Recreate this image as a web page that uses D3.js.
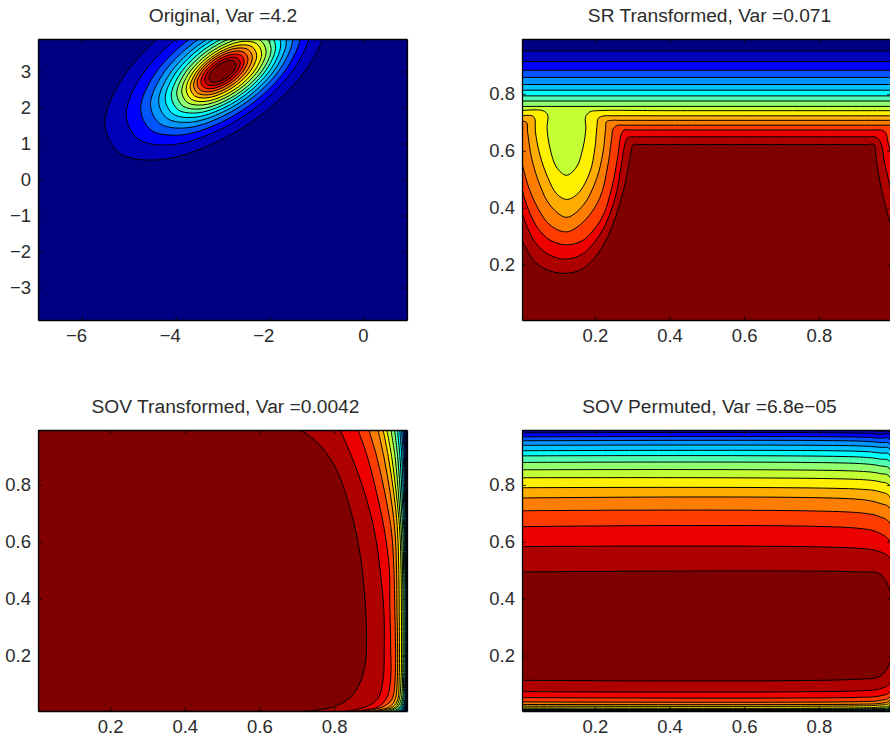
<!DOCTYPE html>
<html><head><meta charset="utf-8">
<script src="https://cdn.jsdelivr.net/npm/d3@7"></script>
<style>html,body{margin:0;padding:0;background:#fff;overflow:hidden}text{font-family:"Liberation Sans",Arial,sans-serif;fill:#2b2b2b}</style>
</head><body><svg id="c" width="890" height="739"></svg>
<script>
// Panel titles and tick labels
const titles = ["Original, Var =4.2","SR Transformed, Var =0.071","SOV Transformed, Var =0.0042","SOV Permuted, Var =6.8e\u221205"];
const originalXTicks = [-6,-4,-2,0];
const originalYTicks = [-3,-2,-1,0,1,2,3];
const unitTicks = [0.2,0.4,0.6,0.8];
const levelColors = ["#000083","#0000bb","#0000ff","#0055ff","#0095ff","#00c3ff","#00ffff","#50ffb0","#90ff70","#c4ff35","#fff000","#ffad00","#ff7d00","#ff3c00","#ee0000","#af0000","#800000"];

// Original: outer contour shape (offsets from its centre) and per-level size / centre
const originalShape = [[2.37,1.49],[2.05,2.27],[1.19,2.45],[0,1.97],[-1.19,.97],[-2.05,-.30],[-2.37,-1.49],[-2.05,-2.27],[-1.19,-2.45],[0,-1.97],[1.19,-.97],[2.05,.30]];
const originalScale = [1,.83,.72,.64,.575,.52,.47,.425,.38,.34,.30,.265,.23,.195,.16,.122];
const originalCx = [-3.14,-3.09,-3.04,-3.02,-3,-2.99,-2.98,-2.97,-2.97,-2.97,-2.98,-2.99,-3,-3,-3,-3];
const originalCy = [3,3,3,3,3,3,3,3,3,3,3,3,3,3,3,3];

// SR Transformed: contours read left to right, lowest level first
const srContours = [
 [[0,.951],[1,.951]],[[0,.914],[1,.914]],[[0,.883],[1,.883]],[[0,.858],[1,.858]],[[0,.833],[1,.833]],
 [[0,.813],[1,.813]],[[0,.793],[1,.793]],[[0,.775],[1,.775]],[[0,.756],[1,.756]],
 [[0,.741],[.061,.741],[.074,.725],[.072,.68],[.08,.609],[.097,.543],[.124,.514],[.151,.543],[.168,.609],[.176,.68],[.175,.718],[.187,.737],[.21,.741],[.4,.741],[1,.741]],
 [[0,.723],[.032,.723],[.039,.714],[.041,.667],[.053,.585],[.075,.503],[.097,.45],[.124,.429],[.155,.45],[.187,.526],[.2,.608],[.206,.69],[.209,.714],[.222,.722],[.25,.723],[.4,.723],[1,.723]],
 [[0,.704],[.017,.7],[.02,.667],[.031,.573],[.053,.479],[.08,.409],[.124,.366],[.169,.409],[.205,.503],[.222,.596],[.229,.679],[.231,.702],[.245,.707],[.27,.707],[.4,.707],[1,.707]],
 [[0,.585],[.021,.479],[.048,.397],[.08,.339],[.124,.315],[.169,.35],[.213,.433],[.235,.55],[.245,.643],[.249,.677],[.262,.69],[.28,.69],[.4,.69],[1,.69]],
 [[0,.49],[.021,.397],[.048,.327],[.08,.286],[.124,.269],[.169,.286],[.218,.362],[.245,.468],[.262,.585],[.27,.655],[.278,.673],[.295,.673],[.4,.673],[.8,.673],[.95,.673],[.968,.673],[.978,.665],[.985,.63],[1,.55]],
 [[0,.40],[.039,.28],[.08,.233],[.124,.219],[.169,.239],[.218,.315],[.254,.433],[.271,.55],[.279,.615],[.287,.645],[.298,.649],[.315,.649],[.4,.649],[.8,.649],[.93,.649],[.95,.649],[.96,.64],[.968,.62],[.976,.556],[1,.43]],
 [[0,.30],[.039,.21],[.08,.178],[.124,.169],[.169,.187],[.218,.257],[.254,.362],[.28,.479],[.293,.567],[.299,.61],[.303,.622],[.32,.622],[.4,.622],[.8,.622],[.93,.622],[.948,.622],[.952,.59],[.958,.532],[.972,.438],[.99,.35],[1,.31]]
];

// SOV Transformed: x of each contour at shared heights, lowest level first
const sovYs = [1,.899,.736,.63,.5,.385,.114,.045,.02,.008,0];
const sovXs = [
 [.9925,.994,.995,.9955,.996,.996,.996,.995,.994,.992,.99],
 [.99,.9925,.9935,.9945,.995,.995,.995,.994,.9925,.99,.987],
 [.987,.99,.992,.9935,.994,.9945,.994,.993,.991,.988,.983],
 [.984,.988,.991,.993,.9935,.994,.9935,.992,.989,.985,.978],
 [.98,.985,.989,.991,.992,.993,.992,.99,.986,.981,.972],
 [.975,.981,.986,.989,.991,.992,.991,.989,.984,.977,.965],
 [.969,.976,.983,.987,.989,.99,.989,.986,.98,.971,.955],
 [.961,.97,.979,.984,.986,.987,.986,.983,.976,.964,.945],
 [.951,.963,.974,.98,.983,.984,.983,.979,.97,.955,.93],
 [.94,.954,.969,.976,.979,.98,.979,.974,.965,.945,.91],
 [.93,.945,.963,.97,.973,.974,.974,.97,.958,.931,.89],
 [.916,.933,.954,.963,.967,.968,.969,.963,.949,.917,.87],
 [.891,.914,.941,.954,.96,.962,.963,.954,.931,.896,.84]
];
const sovUpper = [
 [[.862,1],[.889,.899],[.918,.747],[.936,.63],[.948,.5],[.949,.385],[.951,.245],[.951,.114],[.941,.051],[.918,.02],[.878,.008],[.82,0]],
 [[.814,1],[.847,.899],[.882,.77],[.909,.63],[.923,.5],[.933,.36],[.934,.231],[.931,.114],[.918,.051],[.896,.026],[.851,.008],[.8,0]],
 [[.7,1],[.75,.955],[.8,.87],[.842,.72],[.869,.56],[.881,.42],[.887,.266],[.882,.161],[.864,.09],[.842,.051],[.8,.02],[.753,.008],[.68,0]]
];

// SOV Permuted: upper and lower edge of each level at shared x positions
const permXs = [0,.909,.963,.99];
const permTop = [
 [.994,.994,.989,.986],[.983,.982,.978,.975],[.969,.968,.964,.96],[.955,.954,.949,.943],
 [.939,.937,.932,.926],[.92,.918,.912,.905],[.902,.898,.891,.882],[.879,.875,.867,.856],
 [.853,.848,.84,.828],[.825,.819,.811,.797],[.79,.785,.776,.758],[.754,.749,.735,.718],
 [.709,.702,.688,.665],[.653,.647,.63,.6],[.583,.577,.565,.542],[.494,.494,.487,.43]
];
const permLow = [
 [.004,.0045,.005,.006],[.0045,.005,.0055,.007],[.005,.0055,.0065,.008],[.0055,.006,.0075,.009],
 [.0065,.007,.0085,.011],[.0075,.008,.01,.013],[.009,.0095,.011,.015],[.0105,.011,.013,.018],
 [.012,.013,.015,.021],[.016,.016,.019,.027],[.022,.023,.026,.035],[.028,.029,.032,.043],
 [.037,.038,.042,.055],[.052,.053,.058,.073],[.073,.076,.083,.103],[.113,.117,.127,.173]
];

const svg = d3.select("#c");
const curveOpen = d3.curveCatmullRom.alpha(0.5);
const curveLoop = d3.curveCatmullRomClosed.alpha(0.5);
const fmtUnit = d3.format(".1f");
let clipId = 0;

function panel(o){
  const x = d3.scaleLinear().domain(o.xd).range([o.l,o.r]);
  const y = d3.scaleLinear().domain(o.yd).range([o.b,o.t]);
  const id = "clip"+(clipId++);
  svg.append("clipPath").attr("id",id).append("rect").attr("x",o.l).attr("y",o.t).attr("width",o.r-o.l).attr("height",o.b-o.t);
  const g = svg.append("g");
  const plot = g.append("g").attr("clip-path",`url(#${id})`);
  plot.append("rect").attr("x",o.l).attr("y",o.t).attr("width",o.r-o.l).attr("height",o.b-o.t).attr("fill",levelColors[0]);
  const open = d3.line().x(d=>x(d[0])).y(d=>y(d[1])).curve(curveOpen);
  const loop = d3.line().x(d=>x(d[0])).y(d=>y(d[1])).curve(curveLoop);
  plot.selectAll("path.lv").data(o.levels).join("path").attr("class","lv")
    .attr("d",d=>{
      if(d.closedLoop) return loop(d.pts);
      const ext=(d.close||[]).map(p=>`L${x(p[0])},${y(p[1])}`).join("");
      return open(d.pts)+ext+"Z";
    })
    .attr("fill",(d,i)=>levelColors[i+1]).attr("stroke","#000").attr("stroke-width",1);

  const lab = o.xf||fmtUnit, laby = o.yf||fmtUnit;
  const mk = (ax,vals,f)=>ax.tickValues(vals).tickSizeInner(-4).tickSizeOuter(0).tickPadding(8).tickFormat(f);
  const bottom = g.append("g").attr("transform",`translate(0,${o.b})`).call(mk(d3.axisBottom(x),o.xt,lab));
  const left = g.append("g").attr("transform",`translate(${o.l},0)`).call(mk(d3.axisLeft(y),o.yt,laby));
  g.append("g").attr("transform",`translate(0,${o.t})`).call(mk(d3.axisTop(x),o.xt,()=>""));
  g.append("g").attr("transform",`translate(${o.r},0)`).call(mk(d3.axisRight(y),o.yt,()=>""));
  g.selectAll(".domain").attr("stroke","#000").attr("stroke-width",1.3);
  g.selectAll(".tick line").attr("stroke","#000").attr("stroke-width",0.8);
  bottom.selectAll("text").attr("font-size",18.5).attr("dy","0.78em").attr("dx",d=>d<0?-6:0);
  left.selectAll("text").attr("font-size",18.5).attr("dx",1);
  g.append("text").attr("x",(o.l+o.r)/2+o.tdx).attr("y",o.t-17).attr("text-anchor","middle").attr("font-size",19.2).text(o.title);
}

const closeBelow = [[1.02,-.02],[-.02,-.02]];
const closeLeft = [[-.02,-.02],[-.02,1.02]];

panel({l:38,r:407,t:39,b:320,tdx:.5,xd:[-6.94,.94],yd:[-3.9,3.9],xt:originalXTicks,yt:originalYTicks,
  xf:d3.format("d"),yf:d3.format("d"),title:titles[0],
  levels:originalScale.map((s,i)=>({closedLoop:true,pts:originalShape.map(p=>[originalCx[i]+s*p[0],originalCy[i]+s*p[1]])}))});

panel({l:522,r:891,t:39,b:320,tdx:3,xd:[.005,.993],yd:[.005,.993],xt:unitTicks,yt:unitTicks,title:titles[1],
  levels:srContours.map(c=>({pts:c,close:closeBelow}))});

const sovLevels = sovXs.map(xs=>({pts:xs.map((v,i)=>[v,sovYs[i]]),close:closeLeft}))
  .concat(sovUpper.map(c=>({pts:c,close:closeLeft})));
panel({l:38,r:407,t:430,b:711,tdx:3,xd:[.007,.995],yd:[.005,.993],xt:unitTicks,yt:unitTicks,title:titles[2],levels:sovLevels});

panel({l:522,r:891,t:430,b:711,tdx:3,xd:[.005,.993],yd:[.005,.993],xt:unitTicks,yt:unitTicks,title:titles[3],
  levels:permTop.map((top,i)=>{
    const low = permLow[i];
    const m = (top[3]+low[3])/2;
    return {pts:[...permXs.map((v,j)=>[v,top[j]]),[1.003,m],...permXs.map((v,j)=>[v,low[j]]).reverse()],close:[]};
  })});
</script></body></html>
